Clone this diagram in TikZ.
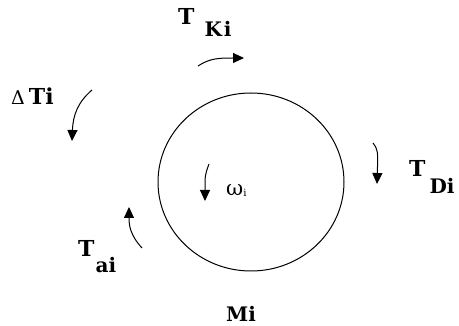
\documentclass[tikz,border=0pt]{standalone}
\usepackage{fontspec}
\setmainfont{DejaVu Serif}
\usepackage{tikz}
\usetikzlibrary{shapes.geometric, arrows.meta}
\newcommand{\subsz}{\fontsize{20}{20}\selectfont}
\tikzset{
  lbl/.style     = {font=\fontsize{22}{22}\selectfont\bfseries,
                    inner sep=0pt, anchor=base west},   % bold torque labels
  thin/.style    = {font=\fontsize{21}{21}\selectfont,
                    inner sep=0pt, anchor=base west},
  disc/.style    = {ellipse, draw, line width=1pt,
                    minimum width=186pt, minimum height=178pt},
  turn/.style    = {line width=1pt,
                    -{Triangle[length=11pt, width=10pt]}}
}

\begin{document}
\begin{tikzpicture}[x=1pt, y=-1pt]
  \useasboundingbox (0,0) rectangle (459,326);
  \node[disc] (mass) at (251,182) {};
  % labels
  \node[lbl] (tk) at (178,25) {T\hspace{10pt}\raisebox{-12pt}{\subsz K\hspace{2pt}i}};
  \node[lbl] (dt) at (11,105) {{\mdseries\fontsize{19}{19}\selectfont Δ}\hspace{4pt}Ti};
  \node[lbl] (td) at (409,177) {T\hspace{4pt}\raisebox{-17pt}{\subsz Di}};
  \node[lbl] (ta) at (78,257) {T\hspace{1pt}\raisebox{-16pt}{\subsz ai}};
  \node[thin] (om) at (226,196) {ω\raisebox{-1pt}{\fontsize{10}{10}\selectfont i}};
  \node[lbl, font=\fontsize{20}{20}\selectfont\bfseries] (mi) at (226,322) {Mi};
  % arrow ends
  \coordinate (tkA) at (198,66);  \coordinate (tkB) at (244,58);
  \coordinate (dtA) at (92,90);   \coordinate (dtB) at (72,141);
  \coordinate (tdA) at (373,143); \coordinate (tdB) at (377,184);
  \coordinate (omA) at (209,164); \coordinate (omB) at (205,201);
  \coordinate (taA) at (142,248); \coordinate (taB) at (129,207);
  \draw[turn] (tkA) .. controls (210,58) and (220,58) .. (tkB);
  \draw[turn] (dtA) .. controls (78,102) and (73,115) .. (dtB);
  \draw[turn] (tdA) .. controls (378,150) .. (tdB);
  \draw[turn] (omA) .. controls (205,175) .. (omB);
  \draw[turn] (taA) .. controls (130,235) and (129,225) .. (taB);
\end{tikzpicture}
\end{document}
